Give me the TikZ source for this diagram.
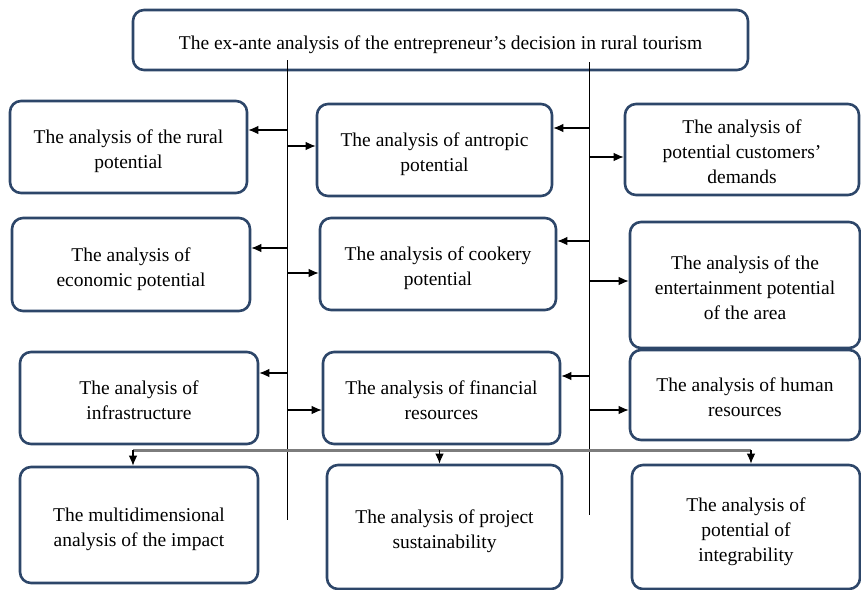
\documentclass[tikz,border=0pt]{standalone}
\usepackage{fontspec}
\setmainfont{Liberation Serif}
\usetikzlibrary{arrows.meta,calc}

\definecolor{boxblue}{RGB}{45,70,105}
\definecolor{bargray}{RGB}{125,125,125}

% text sits a little low in its box
\newcommand\boxtext[1]{\raisebox{-4pt}[\height][\depth]{\begin{tabular}{@{}c@{}}#1\end{tabular}}}

\tikzset{
	box/.style={draw=boxblue, line width=2.6pt, rounded corners=11pt, fill=white,
		inner sep=0pt, font=\fontsize{19.5}{25}\selectfont},
	link/.style={-{Latex[length=10pt,width=8.5pt]}, line width=1.1pt},
}

\begin{document}
\begin{tikzpicture}[x=1pt,y=-1pt]
	\useasboundingbox (0,0) rectangle (861,589);
	% the decision
	\node[box, minimum width=615, minimum height=60] (exante) at (440.5,40)
		{\boxtext{The ex-ante analysis of the entrepreneur's decision in rural tourism}};
	% the two trunks
	\coordinate (lt) at (287,60);
	\coordinate (lb) at (287,520);
	\coordinate (rt) at (589,62);
	\coordinate (rb) at (589,515);
	\draw[line width=1pt] (lt) -- (lb);
	\draw[line width=1pt] (rt) -- (rb);
	% first row
	\node[box, minimum width=237, minimum height=92] (rural) at (128.5,147)
		{\boxtext{The analysis of the rural\\potential}};
	\node[box, minimum width=235, minimum height=92] (antropic) at (434.5,150)
		{\boxtext{The analysis of antropic\\potential}};
	\node[box, minimum width=234, minimum height=91] (customers) at (742,149.5)
		{\boxtext{The analysis of\\potential customers'\\demands}};
	% second row
	\node[box, minimum width=238, minimum height=93] (economic) at (131,264.5)
		{\boxtext{The analysis of\\economic potential}};
	\node[box, minimum width=236, minimum height=92] (cookery) at (438,264)
		{\boxtext{The analysis of cookery\\potential}};
	\node[box, minimum width=230, minimum height=126] (entertain) at (745,285)
		{\boxtext{The analysis of the\\entertainment potential\\of the area}};
	% third row
	\node[box, minimum width=238, minimum height=92] (infra) at (139,398)
		{\boxtext{The analysis of\\infrastructure}};
	\node[box, minimum width=237, minimum height=92] (financial) at (441.5,398)
		{\boxtext{The analysis of financial\\resources}};
	\node[box, minimum width=230, minimum height=90] (human) at (745,395)
		{\boxtext{The analysis of human\\resources}};
	% results
	\node[box, minimum width=238, minimum height=116] (impact) at (139,525)
		{\boxtext{The multidimensional\\analysis of the impact}};
	\node[box, minimum width=235, minimum height=124] (sustain) at (444.5,527)
		{\boxtext{The analysis of project\\sustainability}};
	\node[box, minimum width=228, minimum height=124] (integr) at (746,527)
		{\boxtext{The analysis of\\potential of\\integrability}};
	% left trunk
	\draw[link] (lt |- 0,130) -- (rural.east |- 0,130);
	\draw[link] (lt |- 0,146) -- (antropic.west |- 0,146);
	\draw[link] (lt |- 0,248) -- (economic.east |- 0,248);
	\draw[link] (lt |- 0,273) -- (cookery.west |- 0,273);
	\draw[link] (lt |- 0,373) -- (infra.east |- 0,373);
	\draw[link] (lt |- 0,410) -- (financial.west |- 0,410);
	% right trunk
	\draw[link] (rt |- 0,128) -- (antropic.east |- 0,128);
	\draw[link] (rt |- 0,157) -- (customers.west |- 0,157);
	\draw[link] (rt |- 0,241) -- (cookery.east |- 0,241);
	\draw[link] (rt |- 0,281) -- (entertain.west |- 0,281);
	\draw[link] (rt |- 0,376) -- (financial.east |- 0,376);
	\draw[link] (rt |- 0,410) -- (human.west |- 0,410);
	% bottom bar
	\coordinate (bl) at (133,450);
	\coordinate (br) at (751,450);
	\draw[bargray, line width=3pt] (bl) -- (br);
	\draw[link] (bl) -- (impact.north -| bl);
	\draw[link] (sustain.north |- bl) ++(-5,0) -- ($(sustain.north)+(-5,0)$);
	\draw[link] (br) -- (integr.north -| br);
\end{tikzpicture}
\end{document}
